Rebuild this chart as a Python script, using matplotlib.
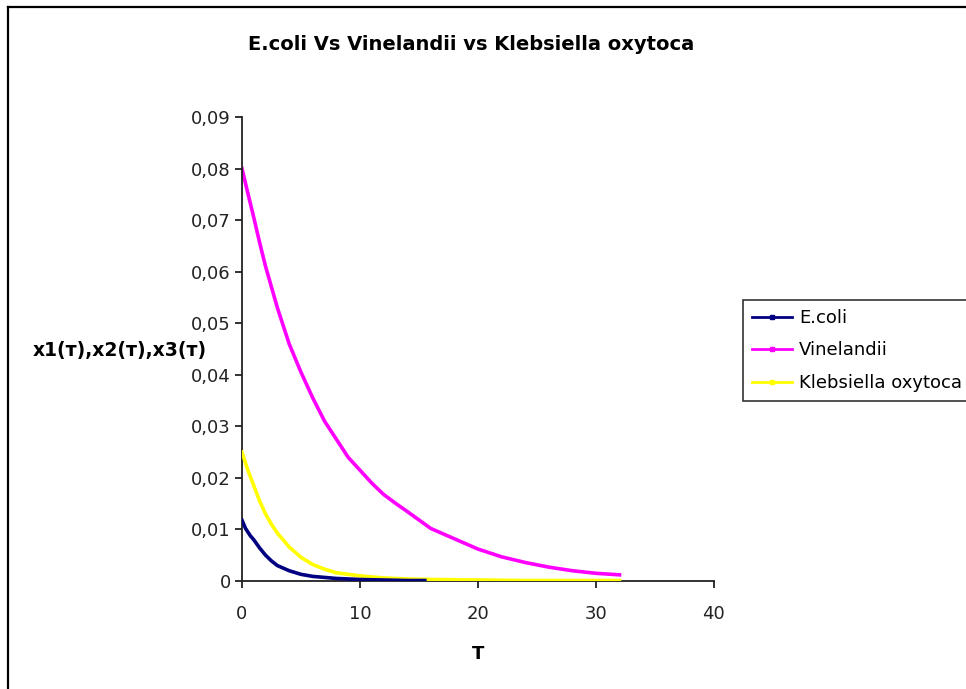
import matplotlib
matplotlib.use("Agg")
import matplotlib.pyplot as plt
from matplotlib.lines import Line2D
from matplotlib.ticker import FuncFormatter

# values
t_vin = [0, 0.5, 1, 1.5, 2, 3, 4, 5, 6, 7, 8, 9, 10, 11, 12, 13, 14, 16, 18, 20, 22, 24,
         26, 28, 30, 32]
x_vin = [0.080, 0.0752, 0.0705, 0.0656, 0.061, 0.053, 0.046, 0.0405, 0.0355, 0.031,
         0.0275, 0.024, 0.0215, 0.0190, 0.0168, 0.0151, 0.0135, 0.0102, 0.0082, 0.0062,
         0.0047, 0.0036, 0.0027, 0.0020, 0.0015, 0.0012]

t_kleb = [0, 0.5, 1, 1.5, 2, 2.5, 3, 4, 5, 6, 7, 8, 10, 12, 14, 16, 20, 24, 28, 32]
x_kleb = [0.025, 0.0215, 0.0185, 0.0155, 0.013, 0.0110, 0.0093, 0.0066, 0.0046, 0.0032,
          0.0023, 0.0016, 0.0010, 0.0006, 0.0004, 0.0003, 0.0002, 0.0001, 0.0001, 0.0001]

t_ecoli = [0, 0.3, 0.7, 1, 1.5, 2, 2.5, 3, 4, 5, 6, 8, 10, 12, 14, 15.5]
x_ecoli = [0.0118, 0.0102, 0.0088, 0.0080, 0.0064, 0.0050, 0.0039, 0.0030, 0.0020,
           0.0013, 0.0009, 0.0005, 0.0003, 0.0002, 0.0001, 0.0001]

series_names = ["E.coli", "Vinelandii", "Klebsiella oxytoca"]
series_colors = ["#000080", "#FF00FF", "#FFFF00"]

plt.rcParams['font.family'] = ['DejaVu Sans']

fig = plt.figure(figsize=(9.66, 6.89), dpi=100)
ax = fig.add_axes([0.2505, 0.1567, 0.739 - 0.2505, 0.8302 - 0.1567])

lw = 2.6
ax.plot(t_vin, x_vin, color=series_colors[1], lw=lw, zorder=2)
ax.plot(t_kleb, x_kleb, color=series_colors[2], lw=lw, zorder=3)
ax.plot(t_ecoli, x_ecoli, color=series_colors[0], lw=lw, zorder=4)

ax.set_xlim(0, 40)
ax.set_ylim(0, 0.09)
ax.set_xticks([0, 10, 20, 30, 40])
ax.set_yticks([i / 100 for i in range(10)])
ax.yaxis.set_major_formatter(FuncFormatter(lambda v, p: "0" if v == 0 else f"{v:.2f}".replace(".", ",")))

for s in ["top", "right"]:
    ax.spines[s].set_visible(False)
for s in ["left", "bottom"]:
    ax.spines[s].set_linewidth(1.3)
    ax.spines[s].set_color("#222222")
ax.tick_params(direction="out", length=5, width=1.3, color="#222222", labelsize=13)
ax.tick_params(axis="y", pad=3)
ax.tick_params(axis="x", pad=12)
for lab in ax.get_xticklabels() + ax.get_yticklabels():
    lab.set_color("#222222")

ax.set_xlabel("T", fontsize=13, fontweight="bold", labelpad=16)
fig.text(0.124, 0.492, "x1(т),x2(т),x3(т)", fontsize=13.5, fontweight="bold",
         ha="center", va="center")
fig.text(0.488, 0.936, "E.coli Vs Vinelandii vs Klebsiella oxytoca", fontsize=14,
         fontweight="bold", ha="center", va="center")

handles = [Line2D([0], [0], color=c, lw=2, marker="s", markersize=2.5) for c in series_colors]
leg = fig.legend(handles, series_names, loc="upper left", bbox_to_anchor=(0.769, 0.5646),
                 fontsize=13, frameon=True, fancybox=False, handlelength=2.2,
                 handletextpad=0.4, borderpad=0.5, labelspacing=0.8, borderaxespad=0)
leg.get_frame().set_edgecolor("black")
leg.get_frame().set_linewidth(1.2)

# chart area border (left and top edges visible)
fig.add_artist(Line2D([0.0078, 0.0078], [0, 0.9898], transform=fig.transFigure, color="black", lw=1.6))
fig.add_artist(Line2D([0.0078, 1], [0.9898, 0.9898], transform=fig.transFigure, color="black", lw=1.6))

fig.savefig("out.png", dpi=100)
